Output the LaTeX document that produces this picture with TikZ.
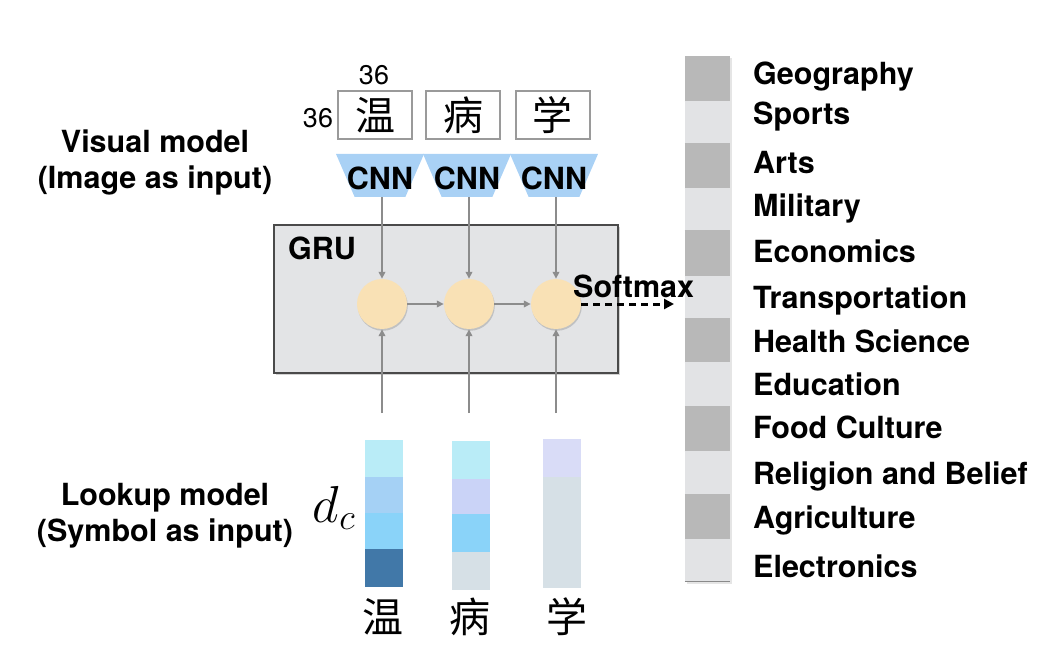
\RequirePackage{fix-cm}
\documentclass[tikz,border=0pt]{standalone}
\usepackage{fontspec}
\setmainfont{TeX Gyre Heros}
\newfontfamily\cjk{Noto Sans CJK SC}
\usetikzlibrary{shapes.geometric,arrows.meta,shadows}
\definecolor{cnnblue}{HTML}{A9D1F5}
\definecolor{grufill}{HTML}{E3E4E6}
\definecolor{gruline}{HTML}{4A4A4A}
\definecolor{nodefill}{HTML}{F9E1B5}
\definecolor{arrowgray}{HTML}{8C8C8C}
\definecolor{boxgray}{HTML}{9A9A9A}
\definecolor{darkcell}{HTML}{B8B8B8}
\definecolor{lightcell}{HTML}{E2E3E5}
\definecolor{sepline}{HTML}{8A8A8A}
\definecolor{vA}{HTML}{B9ECF7}
\definecolor{vB}{HTML}{A5D1F5}
\definecolor{vC}{HTML}{8AD3F9}
\definecolor{vD}{HTML}{4178A8}
\definecolor{vE}{HTML}{CAD3F7}
\definecolor{vF}{HTML}{D6E0E6}
\definecolor{vG}{HTML}{D9DCF7}
\begin{document}
\begin{tikzpicture}[x=1pt,y=-1pt,
  lbl/.style={font=\fontsize{30.5}{36}\selectfont\bfseries, inner sep=0pt},
  num/.style={font=\fontsize{27}{30}\selectfont, inner sep=0pt},
  charbox/.style={draw=boxgray, line width=2pt, fill=white, minimum width=74pt, minimum height=48pt, inner sep=0pt, font=\cjk\fontsize{40}{40}\selectfont},
  bigchar/.style={inner sep=0pt, font=\cjk\fontsize{41}{41}\selectfont},
  cnn/.style={trapezium, shape border rotate=180, trapezium stretches=true, trapezium angle=70, minimum width=88pt, minimum height=43pt, fill=cnnblue, inner sep=0pt, font=\fontsize{28}{30}\selectfont\bfseries},
  grubox/.style={draw=gruline, line width=1.2pt, fill=grufill, minimum width=344pt, minimum height=148pt, drop shadow={shadow xshift=1.5pt, shadow yshift=-2pt, opacity=0.35}},
  gate/.style={circle, fill=nodefill, minimum size=50pt, inner sep=0pt, drop shadow={shadow xshift=0.8pt, shadow yshift=-1.8pt, opacity=0.35}},
  garrow/.style={draw=arrowgray, line width=1.8pt, -{Triangle[length=7pt,width=6.5pt]}},
  darrow/.style={draw=black, line width=3pt, dash pattern=on 7pt off 5pt, -{Triangle[length=10pt,width=10pt]}},
  cell/.style={minimum width=45pt, inner sep=0pt, draw=none},
  vcell/.style={minimum width=38pt, inner sep=0pt, draw=none}
]
\useasboundingbox (0,0) rectangle (1054,668);

% left labels
\node[lbl, align=center] (vis) at (155,162) {Visual model\\(Image as input)};
\node[lbl, align=center] (look) at (165,516) {Lookup model\\(Symbol as input)};

% image boxes
\node[charbox] (b1) at (375,115) {温};
\node[charbox] (b2) at (463,115) {病};
\node[charbox] (b3) at (552.5,115) {学};
\node[num] (w36) at (374,75) {36};
\node[num] (h36) at (318,118) {36};

% CNN trapezia
\node[cnn] (k1) at (380,175.5) {\phantom{N}};
\node[cnn] (k2) at (467,175.5) {\phantom{N}};
\node[cnn] (k3) at (554,175.5) {\phantom{N}};
\node[lbl] (k1t) at (380,178) {CNN};
\node[lbl] (k2t) at (467,178) {CNN};
\node[lbl] (k3t) at (554,178) {CNN};

% GRU box
\node[grubox] (gru) at (446,299) {};
\node[lbl, anchor=base west] (grul) at (288,259) {GRU};

% gates
\node[gate] (c1) at (382,304) {};
\node[gate] (c2) at (469,304) {};
\node[gate] (c3) at (556,304) {};

\draw[garrow] (k1.south -| c1) -- (c1.north);
\draw[garrow] (k2.south -| c2) -- (c2.north);
\draw[garrow] (k3.south -| c3) -- (c3.north);
\draw[garrow] (c1) -- (c2);
\draw[garrow] (c2) -- (c3);

\coordinate (in1) at (382,413);
\coordinate (in2) at (469,413);
\coordinate (in3) at (556,413);
\draw[garrow] (in1) -- (c1.south);
\draw[garrow] (in2) -- (c2.south);
\draw[garrow] (in3) -- (c3.south);

% output column
\fill[black, opacity=0.10] (687,58) rectangle (732,583.5);
\foreach \t/\b/\name/\base [count=\i] in {
  56/101/Geography/85, 101/143/Sports/125, 143/188/Arts/174, 188/230/Military/217,
  230/276/Economics/262, 276/318/Transportation/308, 318/362/Health Science/352,
  362/406/Education/395, 406/451/Food Culture/438, 451/494/Religion and Belief/484,
  494/539/Agriculture/528, 539/581/Electronics/577}{
  \ifodd\i \def\cc{darkcell}\else \def\cc{lightcell}\fi
  \node[cell, fill=\cc, minimum height={\b-\t}] (cell\i) at (707.5,{(\t+\b)/2}) {};
  \draw[sepline, line width=1pt] (cell\i.south west) -- (cell\i.south east);
  \node[lbl, anchor=base west] (cat\i) at (753,\base) {\name};
}

% softmax
\coordinate (sm) at (674,304);
\draw[darrow] (c3.east) -- (sm);
\node[lbl, anchor=base west] (smt) at (573,297) {Softmax};

% lookup vectors
\node[vcell, fill=vA, minimum height=37pt] (v11) at (384,458.5) {};
\node[vcell, fill=vB, minimum height=36pt] (v12) at (384,495) {};
\node[vcell, fill=vC, minimum height=36pt] (v13) at (384,531) {};
\node[vcell, fill=vD, minimum height=38pt] (v14) at (384,568) {};
\node[vcell, fill=vA, minimum height=38pt] (v21) at (470.5,460) {};
\node[vcell, fill=vE, minimum height=35pt] (v22) at (470.5,496.5) {};
\node[vcell, fill=vC, minimum height=38pt] (v23) at (470.5,533) {};
\node[vcell, fill=vF, minimum height=38pt] (v24) at (470.5,571) {};
\node[vcell, fill=vG, minimum height=38pt] (v31) at (562,458) {};
\node[vcell, fill=vF, minimum height=111pt] (v32) at (562,532.5) {};

\node[inner sep=0pt, font=\fontsize{52}{58}\selectfont] (dc) at (334,508) {$d_c$};

\node[bigchar] (w1) at (383,617) {温};
\node[bigchar] (w2) at (470,617) {病};
\node[bigchar] (w3) at (567,617) {学};
\end{tikzpicture}
\end{document}
